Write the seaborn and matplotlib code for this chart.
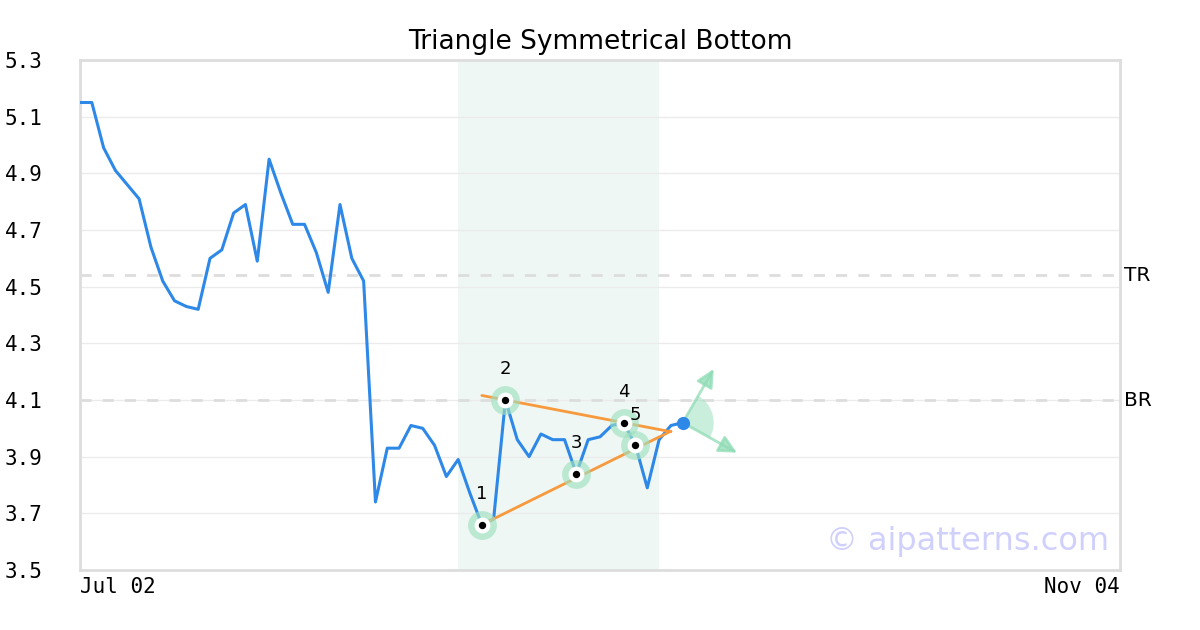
import numpy as np
import pandas as pd
import matplotlib
matplotlib.use("Agg")
import matplotlib.pyplot as plt
import matplotlib.transforms as mtransforms
from matplotlib.patches import Wedge
import seaborn as sns

# ---- data ----
prices = [5.15, 5.15, 4.99, 4.91, 4.86, 4.81, 4.64, 4.52, 4.45, 4.43,
          4.42, 4.60, 4.63, 4.76, 4.79, 4.59, 4.95, 4.83, 4.72, 4.72,
          4.62, 4.48, 4.79, 4.60, 4.52, 3.74, 3.93, 3.93, 4.01, 4.00,
          3.94, 3.83, 3.89, 3.77, 3.66, 3.68, 4.10, 3.96, 3.90, 3.98,
          3.96, 3.96, 3.84, 3.96, 3.97, 4.01, 4.02, 3.94, 3.79, 3.96,
          4.01, 4.02]
pattern_idx = [34, 36, 42, 46, 47]
pattern_labels = ["1", "2", "3", "4", "5"]
top_line_x = [34, 50]
top_line_y = [4.116, 3.988]
bot_line_x = [34, 50]
bot_line_y = [3.66, 3.99]
shade_span = [32, 49]
levels = [4.54, 4.10]
level_labels = ["TR", "BR"]
x_tick_pos = [0, 88]
x_tick_labels = ["Jul 02", "Nov 04"]
y_ticks = [3.5, 3.7, 3.9, 4.1, 4.3, 4.5, 4.7, 4.9, 5.1, 5.3]
title = "Triangle Symmetrical Bottom"
watermark = "\u00a9 aipatterns.com"

df = pd.DataFrame({"i": np.arange(len(prices)), "price": prices})
pts = df.iloc[pattern_idx]

sns.set_theme(style="white")
plt.rcParams["font.family"] = ["DejaVu Sans"]
plt.rcParams["text.color"] = "black"
plt.rcParams["xtick.color"] = "black"
plt.rcParams["ytick.color"] = "black"
plt.rcParams["axes.titlecolor"] = "black"

fig = plt.figure(figsize=(12, 6.3), dpi=100)
ax = fig.add_axes([80 / 1200, 60 / 630, 1040 / 1200, 510 / 630])

ax.axvspan(shade_span[0], shade_span[1], color="#eef7f3", zorder=0, lw=0)
ax.yaxis.grid(True, color="#ebebeb", lw=1, zorder=0.5)
ax.set_axisbelow(True)

for lv in levels:
    ax.axhline(lv, color="#dddddd", lw=2, ls=(0, (4, 4)), zorder=1)

sns.lineplot(data=df, x="i", y="price", ax=ax, color="#2d88e8", lw=2.2,
             zorder=3, legend=False)

ax.plot(top_line_x, top_line_y, color="#f7993d", lw=2, zorder=4)
ax.plot(bot_line_x, bot_line_y, color="#f7993d", lw=2, zorder=4)

sns.scatterplot(data=pts, x="i", y="price", ax=ax, s=430, color="#9fe0c0",
                alpha=0.65, linewidth=0, zorder=5, legend=False)
sns.scatterplot(data=pts, x="i", y="price", ax=ax, s=130, color="white",
                linewidth=0, zorder=6, legend=False)
sns.scatterplot(data=pts, x="i", y="price", ax=ax, s=28, color="black",
                linewidth=0, zorder=7, legend=False)
for (_, r), lab in zip(pts.iterrows(), pattern_labels):
    ax.annotate(lab, (r["i"], r["price"]), xytext=(0, 22),
                textcoords="offset points", ha="center", va="center",
                fontsize=13, color="black", zorder=8)

# last point + direction arrows
last_x, last_y = df["i"].iloc[-1], df["price"].iloc[-1]
ax.scatter([last_x], [last_y], s=90, color="#2d88e8", zorder=8, linewidths=0)
arrow_col = "#8fdcb5"
tr = fig.dpi_scale_trans + mtransforms.ScaledTranslation(last_x, last_y, ax.transData)
ax.add_patch(Wedge((0, 0), 0.31, -29, 60, transform=tr, color="#9fe0c0",
                   alpha=0.55, lw=0, zorder=2))
for ang in (60, -29):
    L = 0.62
    tip = (L * np.cos(np.radians(ang)), L * np.sin(np.radians(ang)))
    ax.annotate("", xy=tip, xycoords=tr, xytext=(0, 0), textcoords=tr,
                arrowprops=dict(arrowstyle="-|>,head_length=0.9,head_width=0.45",
                                color=arrow_col, lw=2, alpha=0.75,
                                shrinkA=0, shrinkB=0),
                zorder=2)

ax.set_xlim(x_tick_pos[0], x_tick_pos[1])
ax.set_ylim(y_ticks[0], y_ticks[-1])
ax.set_yticks(y_ticks)
ax.set_yticklabels([f"{v:.1f}" for v in y_ticks], family="DejaVu Sans Mono",
                   fontsize=15, ha="left")
ax.set_xticks(x_tick_pos)
xl = ax.set_xticklabels(x_tick_labels, family="DejaVu Sans Mono", fontsize=15)
xl[0].set_ha("left")
xl[-1].set_ha("right")
ax.tick_params(axis="y", length=0, pad=54)
ax.tick_params(axis="x", length=0, pad=5)
ax.set_xlabel("")
ax.set_ylabel("")

for sp in ax.spines.values():
    sp.set_color("#dddddd")
    sp.set_linewidth(2)

for lv, lab in zip(levels, level_labels):
    ax.text(1.004, lv, lab, transform=ax.get_yaxis_transform(),
            ha="left", va="center", fontsize=14.5, color="black")

ax.set_title(title, fontsize=19, pad=8)
ax.text(0.99, 0.055, watermark, transform=ax.transAxes, ha="right",
        va="center", fontsize=23, color="#d0d0fc", zorder=9)

fig.savefig("out.png", dpi=100)
